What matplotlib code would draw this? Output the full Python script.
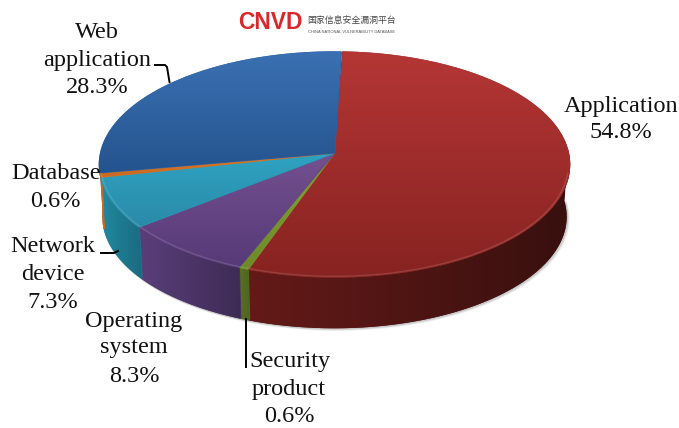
import numpy as np
import matplotlib
matplotlib.use('Agg')
import matplotlib.pyplot as plt
from matplotlib.collections import LineCollection
from matplotlib.patches import Polygon

categories = ['Application', 'Security product', 'Operating system', 'Network device', 'Database', 'Web application']
shares = [54.8, 0.6, 8.3, 7.3, 0.6, 28.3]

# top face gradient (upper, lower) and side wall gradient (left, right)
top_colors = [('#b43635', '#872321'), ('#86a332', '#6c8a2a'), ('#74508f', '#573a78'),
              ('#2fa3c2', '#2a8aa8'), ('#dc7a2a', '#c96a20'), ('#3a70b2', '#24548e')]
wall_colors = [('#641a18', '#38100e'), ('#5a7022', '#4f6420'), ('#5a3e7a', '#3e2b55'),
               ('#22899f', '#1a6a80'), ('#c46a1e', '#c46a1e'), None]

start_angle = 2.2
cx, cy = 334.5, 153.0
A, B, k = 233.8, 111.3, 0.102
depth = 52.5
shrink = 0.985


def project(t, scale=1.0, drop=0.0):
    # t in degrees clockwise from 12 o'clock
    r = np.radians(t)
    u, v = np.sin(r), np.cos(r)
    w = 1 + k * v
    return cx + scale * A * u / w, cy - scale * B * v / w + drop


def gradient_fill(ax, poly, c1, c2, horizontal=False, zorder=2):
    rgb1 = np.array(matplotlib.colors.to_rgb(c1))
    rgb2 = np.array(matplotlib.colors.to_rgb(c2))
    f = np.linspace(0, 1, 128)[:, None]
    img = rgb1 * (1 - f) + rgb2 * f
    img = img[None, :, :] if horizontal else img[:, None, :]
    x0, y0 = poly.min(axis=0)
    x1, y1 = poly.max(axis=0)
    # base polygon so the clip edge stays solid
    mid = (rgb1 + rgb2) / 2
    ax.add_patch(Polygon(poly, closed=True, fc=mid, ec=mid, lw=1.0, zorder=zorder))
    im = ax.imshow(img, extent=[x0, x1, y1, y0], aspect='auto', zorder=zorder, interpolation='bilinear')
    im.set_clip_path(Polygon(poly, closed=True, transform=ax.transData))
    return rgb1, rgb2, (x0, y0, x1, y1)


def smooth_edge(ax, xs, ys, rgb1, rgb2, box, horizontal=False, zorder=4.5):
    # stroke the outer arc, the image clip is not antialiased
    x0, y0, x1, y1 = box
    if horizontal:
        f = (xs[:-1] - x0) / max(x1 - x0, 1e-6)
    else:
        f = (ys[:-1] - y0) / max(y1 - y0, 1e-6)
    cols = rgb1 * (1 - f[:, None]) + rgb2 * f[:, None]
    pts = np.column_stack([xs, ys])
    segs = np.stack([pts[:-1], pts[1:]], axis=1)
    ax.add_collection(LineCollection(segs, colors=cols, lw=1.0, zorder=zorder))


fig = plt.figure(figsize=(6.79, 4.28), dpi=100)
ax = fig.add_axes([0, 0, 1, 1])

edges = start_angle + np.concatenate([[0], np.cumsum(shares)]) * 3.6

# soft shadow around the wall
ts = np.linspace(88, 272, 200)
for off, alpha in [(4, 0.06), (3, 0.08), (2, 0.1), (1, 0.14)]:
    xs, ys = project(ts, shrink, depth)
    ax.plot(xs + off * 0.6, ys + off * 0.5, color='#555555', alpha=alpha, lw=2, zorder=1)

# side walls, only the front half shows
for i in range(len(shares)):
    if wall_colors[i] is None:
        continue
    t0 = max(edges[i], 88)
    t1 = edges[i + 1]
    if categories[i] == 'Database':
        t1 = 268
    ts = np.linspace(t0, t1, 80)
    tx, ty = project(ts)
    bx, by = project(ts, shrink, depth)
    poly = np.column_stack([np.r_[tx, bx[::-1]], np.r_[ty, by[::-1]]])
    # left colour is at the smaller x
    c1, c2, box = gradient_fill(ax, poly, wall_colors[i][0], wall_colors[i][1], horizontal=True, zorder=3)
    smooth_edge(ax, bx, by, c1, c2, box, horizontal=True, zorder=3.5)

# top faces
for i in range(len(shares)):
    ts = np.linspace(edges[i], edges[i + 1], 200)
    tx, ty = project(ts)
    poly = np.column_stack([np.r_[cx, tx], np.r_[cy, ty]])
    c1, c2, box = gradient_fill(ax, poly, top_colors[i][0], top_colors[i][1], zorder=4)
    smooth_edge(ax, tx, ty, c1, c2, box)

# bevel highlight along the front rim
for i in range(len(shares)):
    if wall_colors[i] is None:
        continue
    ts = np.linspace(max(edges[i], 100), min(edges[i + 1], 262), 120)
    tx, ty = project(ts, 0.995)
    ax.plot(tx, ty, color='white', alpha=0.13, lw=1.0, zorder=5, solid_capstyle='butt')

font = 'Liberation Serif'
size = 17.5

label_lines = [
    ('Application', 621, 106), ('54.8%', 621, 132),
    ('Web', 97, 32), ('application', 97, 60), ('28.3%', 97, 87),
    ('Database', 56, 173), ('0.6%', 55, 201),
    ('Network', 53, 246), ('device', 53, 275), ('7.3%', 53, 303),
    ('Operating', 134, 322), ('system', 134, 348), ('8.3%', 134, 376),
    ('Security', 290, 362), ('product', 289, 389), ('0.6%', 289, 416),
]
for txt, x, y in label_lines:
    ax.text(x, y, txt, family=font, fontsize=size, color='#111111', ha='center', va='center', zorder=6)

# leader lines
ax.plot([155, 165, 167, 169.5], [65, 65, 67, 82], color='black', lw=1.4, zorder=6)
ax.plot([101, 114, 118], [253, 253, 251], color='black', lw=1.4, zorder=6)
ax.plot([246, 246], [319, 367], color='black', lw=1.4, zorder=6)

# logo
ax.text(270, 22, 'CNVD', family='Liberation Sans', fontweight='bold', fontsize=16.5, color='#d8282c',
        ha='center', va='center', zorder=6)
ax.text(352, 20, '国家信息安全漏洞平台', family=['Noto Sans CJK SC', 'DejaVu Sans'], fontsize=6.4, color='#444444',
        ha='center', va='center', zorder=6)
ax.text(352, 32, 'CHINA NATIONAL VULNERABILITY DATABASE', family='Liberation Sans', fontsize=2.9, color='#555555',
        ha='center', va='center', zorder=6)

ax.set_xlim(0, 679)
ax.set_ylim(428, 0)
ax.axis('off')
fig.savefig('out.png', dpi=100)
